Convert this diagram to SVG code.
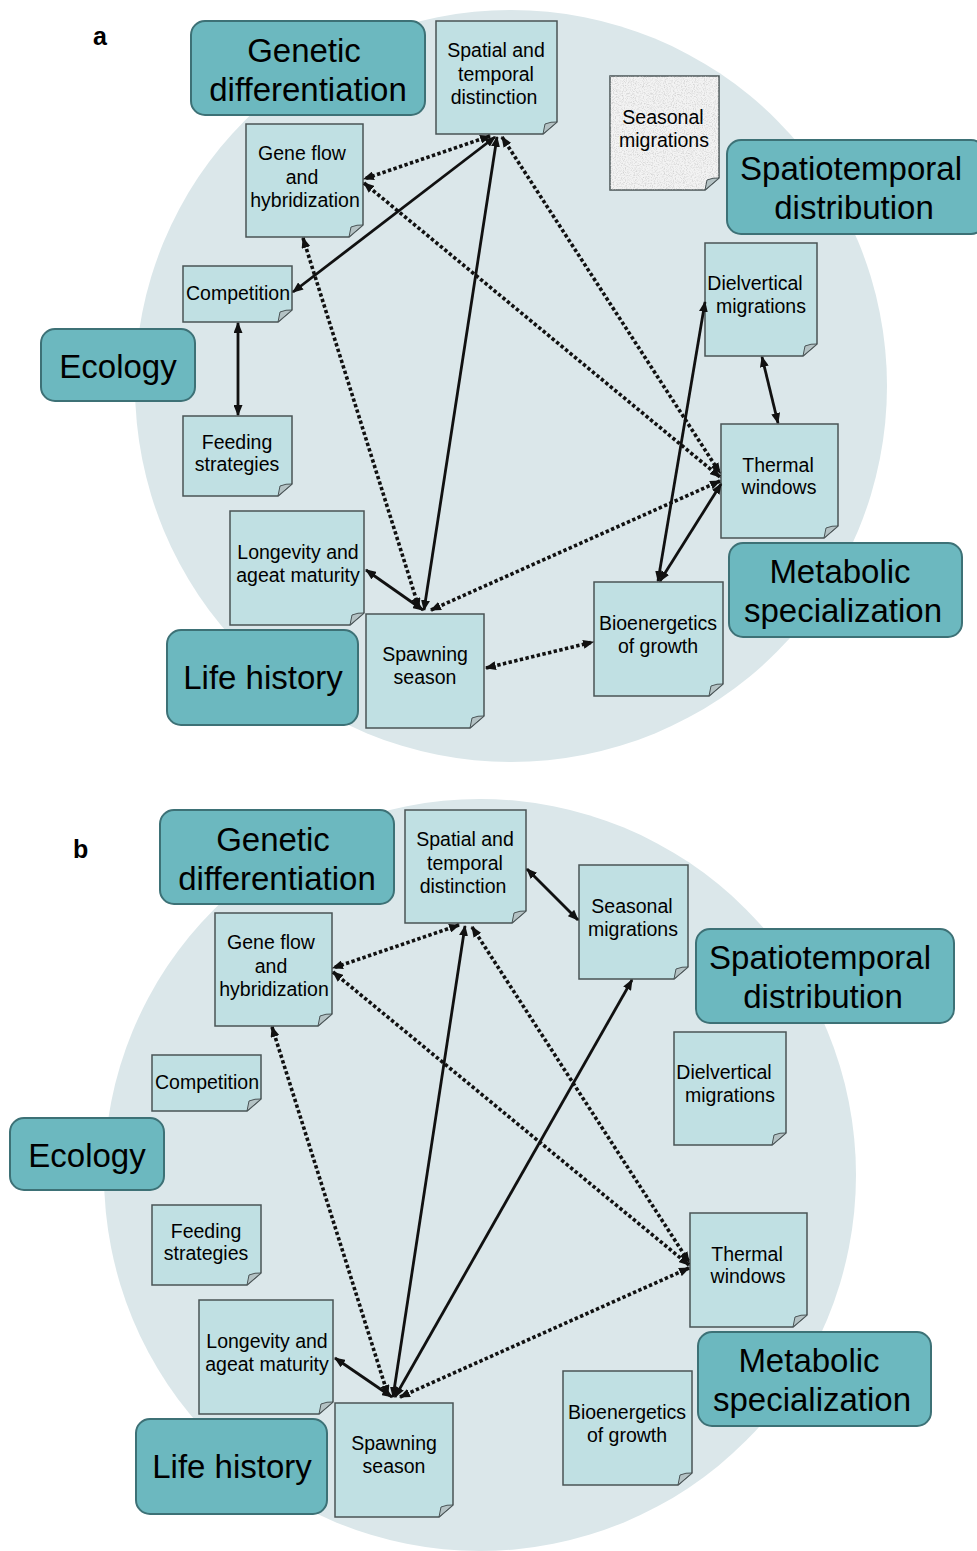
<svg xmlns="http://www.w3.org/2000/svg" width="977" height="1551" viewBox="0 0 977 1551">
<defs>
<style>
.bg{fill:#fff}
.circ{fill:#dbe7ea}
.cat rect{fill:#6cb8bf;stroke:#3d7176;stroke-width:2}
.cat text{font:33px "Liberation Sans",Arial,sans-serif;text-anchor:middle;fill:#000}
.nd .body{fill:#c0e0e3;stroke:#4a5456;stroke-width:1.5}
.nd .fold{fill:#b4c2c4;stroke:#4a5456;stroke-width:1}
.nd text{font:19.5px "Liberation Sans",Arial,sans-serif;text-anchor:middle;fill:#000}
.nd.tex .body{fill:#f3f3f3}
.sol{stroke:#111;stroke-width:2.8;fill:none;marker-start:url(#ah);marker-end:url(#ah)}
.dot{stroke:#111;stroke-width:3.6;stroke-dasharray:3.4 2.4;fill:none;marker-start:url(#ah);marker-end:url(#ah)}
.lbl{font:bold 25px "Liberation Sans",Arial,sans-serif;fill:#000}
</style>
<marker id="ah" viewBox="0 0 10 8" refX="9" refY="4" markerWidth="11" markerHeight="9" markerUnits="userSpaceOnUse" orient="auto-start-reverse" preserveAspectRatio="none">
<path d="M0,0 L10,4 L0,8 Z" fill="#111"/>
</marker>
<filter id="speckle" x="0" y="0" width="1" height="1">
<feTurbulence type="fractalNoise" baseFrequency="0.9" numOctaves="3" seed="4" result="noise"/>
<feColorMatrix in="noise" type="matrix" values="0 0 0 0 0.55  0 0 0 0 0.55  0 0 0 0 0.55  1.7 0 0 0 -0.75" result="dots"/>
<feComposite in="dots" in2="SourceGraphic" operator="in"/>
</filter>
</defs>
<rect class="bg" x="0" y="0" width="977" height="1551"/>
<text class="lbl" x="93" y="45">a</text>
<text class="lbl" x="73" y="858">b</text>

<g id="panel-a">
<circle class="circ" cx="511" cy="386" r="376"/>
<g id="a-genetic" class="cat"><rect x="191" y="21" width="234" height="94" rx="14"/><text x="304" y="62">Genetic</text><text x="308" y="101">differentiation</text></g>
<g id="a-spatiotemporal" class="cat"><rect x="727" y="140" width="258" height="94" rx="14"/><text x="851" y="180">Spatiotemporal</text><text x="854" y="219">distribution</text></g>
<g id="a-ecology" class="cat"><rect x="41" y="329" width="154" height="72" rx="14"/><text x="118" y="378">Ecology</text></g>
<g id="a-metabolic" class="cat"><rect x="729" y="543" width="233" height="94" rx="14"/><text x="840" y="583">Metabolic</text><text x="843" y="622">specialization</text></g>
<g id="a-lifehistory" class="cat"><rect x="167" y="630" width="191" height="95" rx="14"/><text x="263" y="689">Life history</text></g>

<g id="a-spatial" class="nd"><path class="body" d="M436 21 H557 V122 L543 134 H436 Z"/><path class="fold" d="M557 122 Q551 121.5 545 124 Q544 129 543 134 Z"/><text x="496" y="57">Spatial and</text><text x="496" y="81">temporal</text><text x="494" y="104">distinction</text></g>
<g id="a-geneflow" class="nd"><path class="body" d="M246 124 H363 V225 L349 237 H246 Z"/><path class="fold" d="M363 225 Q357 224.5 351 227 Q350 232 349 237 Z"/><text x="302" y="160">Gene flow</text><text x="302" y="184">and</text><text x="305" y="207">hybridization</text></g>
<g id="a-seasonal" class="nd tex"><path class="body" d="M610 76 H719 V178 L705 190 H610 Z"/><path d="M610 76 H719 V178 L705 190 H610 Z" fill="#000" filter="url(#speckle)"/><path class="fold" d="M719 178 Q713 177.5 707 180 Q706 185 705 190 Z"/><text x="663" y="124">Seasonal</text><text x="664" y="147">migrations</text></g>
<g id="a-dielvertical" class="nd"><path class="body" d="M705 243 H817 V344 L803 356 H705 Z"/><path class="fold" d="M817 344 Q811 343.5 805 346 Q804 351 803 356 Z"/><text x="755" y="290">Dielvertical</text><text x="761" y="313">migrations</text></g>
<g id="a-competition" class="nd"><path class="body" d="M183 266 H292 V310 L278 322 H183 Z"/><path class="fold" d="M292 310 Q286 309.5 280 312 Q279 317 278 322 Z"/><text x="238" y="300">Competition</text></g>
<g id="a-feeding" class="nd"><path class="body" d="M183 416 H292 V484 L278 496 H183 Z"/><path class="fold" d="M292 484 Q286 483.5 280 486 Q279 491 278 496 Z"/><text x="237" y="449">Feeding</text><text x="237" y="471">strategies</text></g>
<g id="a-thermal" class="nd"><path class="body" d="M721 424 H838 V526 L824 538 H721 Z"/><path class="fold" d="M838 526 Q832 525.5 826 528 Q825 533 824 538 Z"/><text x="778" y="472">Thermal</text><text x="779" y="494">windows</text></g>
<g id="a-longevity" class="nd"><path class="body" d="M230 511 H364 V613 L350 625 H230 Z"/><path class="fold" d="M364 613 Q358 612.5 352 615 Q351 620 350 625 Z"/><text x="298" y="559">Longevity and</text><text x="298" y="582">ageat maturity</text></g>
<g id="a-bioenergetics" class="nd"><path class="body" d="M594 582 H723 V684 L709 696 H594 Z"/><path class="fold" d="M723 684 Q717 683.5 711 686 Q710 691 709 696 Z"/><text x="658" y="630">Bioenergetics</text><text x="658" y="653">of growth</text></g>
<g id="a-spawning" class="nd"><path class="body" d="M366 614 H484 V716 L470 728 H366 Z"/><path class="fold" d="M484 716 Q478 715.5 472 718 Q471 723 470 728 Z"/><text x="425" y="661">Spawning</text><text x="425" y="684">season</text></g>

<g id="a-connectors">
<line class="dot" x1="490" y1="136" x2="364" y2="179"/>
<line class="sol" x1="495" y1="137" x2="293" y2="292"/>
<line class="sol" x1="497" y1="137" x2="424" y2="610"/>
<line class="dot" x1="502" y1="137" x2="720" y2="473"/>
<line class="dot" x1="364" y1="183" x2="720" y2="477"/>
<line class="dot" x1="303" y1="238" x2="419" y2="608"/>
<line class="sol" x1="238" y1="323" x2="238" y2="415"/>
<line class="sol" x1="366" y1="570" x2="423" y2="610"/>
<line class="dot" x1="431" y1="610" x2="720" y2="481"/>
<line class="dot" x1="486" y1="668" x2="593" y2="642"/>
<line class="sol" x1="658" y1="581" x2="705" y2="302"/>
<line class="sol" x1="660" y1="581" x2="721" y2="484"/>
<line class="sol" x1="762" y1="357" x2="778" y2="423"/>
</g>
</g>

<g id="panel-b" transform="translate(-31,789)">
<circle class="circ" cx="511" cy="386" r="376"/>
<g id="b-genetic" class="cat"><rect x="191" y="21" width="234" height="94" rx="14"/><text x="304" y="62">Genetic</text><text x="308" y="101">differentiation</text></g>
<g id="b-spatiotemporal" class="cat"><rect x="727" y="140" width="258" height="94" rx="14"/><text x="851" y="180">Spatiotemporal</text><text x="854" y="219">distribution</text></g>
<g id="b-ecology" class="cat"><rect x="41" y="329" width="154" height="72" rx="14"/><text x="118" y="378">Ecology</text></g>
<g id="b-metabolic" class="cat"><rect x="729" y="543" width="233" height="94" rx="14"/><text x="840" y="583">Metabolic</text><text x="843" y="622">specialization</text></g>
<g id="b-lifehistory" class="cat"><rect x="167" y="630" width="191" height="95" rx="14"/><text x="263" y="689">Life history</text></g>

<g id="b-spatial" class="nd"><path class="body" d="M436 21 H557 V122 L543 134 H436 Z"/><path class="fold" d="M557 122 Q551 121.5 545 124 Q544 129 543 134 Z"/><text x="496" y="57">Spatial and</text><text x="496" y="81">temporal</text><text x="494" y="104">distinction</text></g>
<g id="b-geneflow" class="nd"><path class="body" d="M246 124 H363 V225 L349 237 H246 Z"/><path class="fold" d="M363 225 Q357 224.5 351 227 Q350 232 349 237 Z"/><text x="302" y="160">Gene flow</text><text x="302" y="184">and</text><text x="305" y="207">hybridization</text></g>
<g id="b-seasonal" class="nd"><path class="body" d="M610 76 H719 V178 L705 190 H610 Z"/><path class="fold" d="M719 178 Q713 177.5 707 180 Q706 185 705 190 Z"/><text x="663" y="124">Seasonal</text><text x="664" y="147">migrations</text></g>
<g id="b-dielvertical" class="nd"><path class="body" d="M705 243 H817 V344 L803 356 H705 Z"/><path class="fold" d="M817 344 Q811 343.5 805 346 Q804 351 803 356 Z"/><text x="755" y="290">Dielvertical</text><text x="761" y="313">migrations</text></g>
<g id="b-competition" class="nd"><path class="body" d="M183 266 H292 V310 L278 322 H183 Z"/><path class="fold" d="M292 310 Q286 309.5 280 312 Q279 317 278 322 Z"/><text x="238" y="300">Competition</text></g>
<g id="b-feeding" class="nd"><path class="body" d="M183 416 H292 V484 L278 496 H183 Z"/><path class="fold" d="M292 484 Q286 483.5 280 486 Q279 491 278 496 Z"/><text x="237" y="449">Feeding</text><text x="237" y="471">strategies</text></g>
<g id="b-thermal" class="nd"><path class="body" d="M721 424 H838 V526 L824 538 H721 Z"/><path class="fold" d="M838 526 Q832 525.5 826 528 Q825 533 824 538 Z"/><text x="778" y="472">Thermal</text><text x="779" y="494">windows</text></g>
<g id="b-longevity" class="nd"><path class="body" d="M230 511 H364 V613 L350 625 H230 Z"/><path class="fold" d="M364 613 Q358 612.5 352 615 Q351 620 350 625 Z"/><text x="298" y="559">Longevity and</text><text x="298" y="582">ageat maturity</text></g>
<g id="b-bioenergetics" class="nd"><path class="body" d="M594 582 H723 V684 L709 696 H594 Z"/><path class="fold" d="M723 684 Q717 683.5 711 686 Q710 691 709 696 Z"/><text x="658" y="630">Bioenergetics</text><text x="658" y="653">of growth</text></g>
<g id="b-spawning" class="nd"><path class="body" d="M366 614 H484 V716 L470 728 H366 Z"/><path class="fold" d="M484 716 Q478 715.5 472 718 Q471 723 470 728 Z"/><text x="425" y="661">Spawning</text><text x="425" y="684">season</text></g>

<g id="b-connectors">
<line class="dot" x1="490" y1="136" x2="364" y2="179"/>
<line class="sol" x1="496" y1="137" x2="424" y2="608"/>
<line class="dot" x1="503" y1="138" x2="720" y2="473"/>
<line class="dot" x1="364" y1="183" x2="720" y2="476"/>
<line class="dot" x1="303" y1="238" x2="419" y2="606"/>
<line class="sol" x1="663" y1="191" x2="426" y2="608"/>
<line class="sol" x1="366" y1="569" x2="423" y2="608"/>
<line class="dot" x1="431" y1="608" x2="720" y2="479"/>
<line class="sol" x1="558" y1="80" x2="609" y2="131"/>
</g>
</g>
</svg>
